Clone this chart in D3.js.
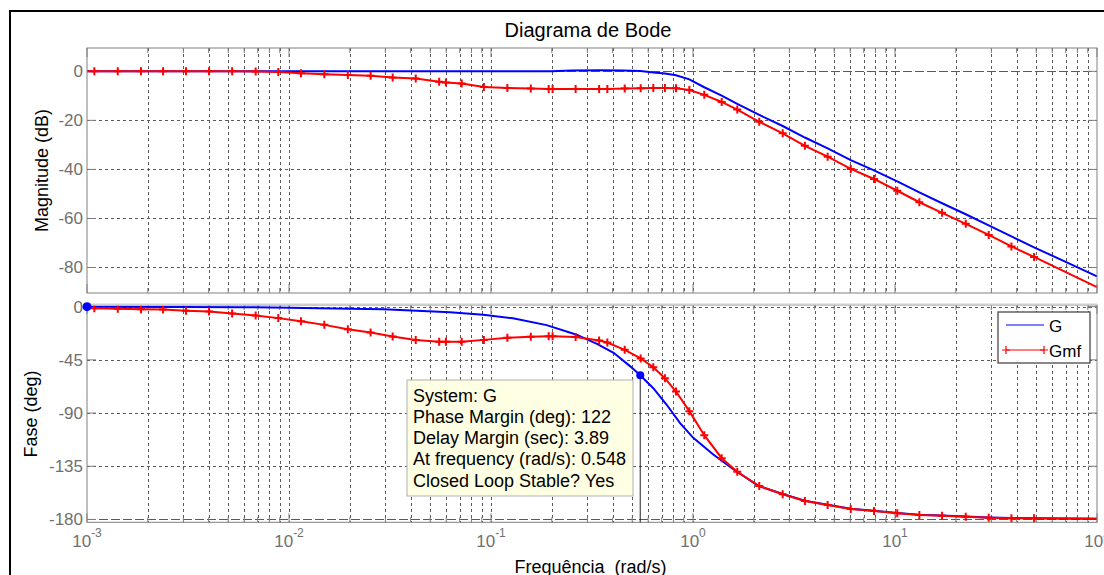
<!DOCTYPE html>
<html>
<head>
<meta charset="utf-8">
<script src="https://cdn.jsdelivr.net/npm/d3@7"></script>
<style>
  body { margin: 0; background: #fff; }
  svg { display: block; font-family: "Liberation Sans", Arial, sans-serif; }
</style>
</head>
<body>
<svg id="chart" width="1104" height="575"></svg>
<script>
// G : magnitude (dB)
var freqGMag = [0.001, 0.01, 0.1, 0.2, 0.25, 0.35, 0.45, 0.55, 0.636, 0.726, 0.824, 0.959, 1.137, 1.387,
    1.656, 2.128, 2.78, 3.58, 4.64, 6.04, 7.87, 10.26, 13.2, 17.1, 22.4, 29.1, 37.7, 48.8, 70, 100];
var magG = [0, 0, 0, 0.05, 0.3, 0.4, 0.3, 0.1, -0.5, -0.9, -1.6, -3.3, -6.5, -9.9,
    -13.3, -17.8, -22.3, -27.0, -31.4, -36.2, -40.4, -44.9, -49.4, -53.8, -58.3, -62.8, -67.3, -71.8, -77.7, -83.6];

// G : phase (deg)
var freqGPh = [0.001, 0.003, 0.006, 0.01, 0.02, 0.0293, 0.0429, 0.0626, 0.0916, 0.1285, 0.1885, 0.2634,
    0.3346, 0.4046, 0.489, 0.548, 0.636, 0.741, 0.863, 1.003, 1.26, 1.583, 2.105, 2.78, 3.58, 4.64, 6.04,
    7.87, 10.26, 13.2, 17.1, 22.4, 29.1, 37.7, 48.8, 100];
var phaseG = [-0.1, -0.25, -0.5, -0.85, -1.7, -2.3, -3.4, -4.8, -6.8, -9.8, -15.6, -23.5,
    -31.5, -39, -50.5, -58, -69, -83, -98.5, -111, -125, -137.5, -151.5, -158.5, -164.2, -167.6, -171,
    -172.6, -174.6, -176, -176.6, -177.5, -178.3, -178.8, -179, -179.5];

// Gmf : frequency points (markers on all but the two ends)
var freqGmf = [0.001, 0.001087, 0.00142, 0.00185, 0.00238, 0.00309, 0.00402, 0.00523, 0.00684, 0.00885,
    0.01146, 0.01496, 0.01955, 0.02535, 0.0326, 0.0424, 0.0554, 0.0598, 0.0716, 0.0922, 0.1205, 0.1574,
    0.193, 0.2018, 0.2624, 0.343, 0.3767, 0.4592, 0.5508, 0.636, 0.726, 0.824, 0.959, 1.137, 1.387, 1.656,
    2.128, 2.78, 3.58, 4.64, 6.04, 7.87, 10.26, 13.2, 17.1, 22.4, 29.1, 37.7, 48.8, 100];
var magGmf = [0, 0, 0, 0, 0, 0, 0, 0, -0.1, -0.3,
    -0.8, -1.2, -1.5, -1.8, -2.5, -2.9, -4.3, -4.6, -5.0, -6.4, -6.8, -7.0,
    -7.2, -7.2, -7.2, -7.2, -7.2, -7.0, -6.9, -6.8, -6.8, -6.9, -7.6, -9.6, -12.5, -15.6,
    -20.6, -25.3, -30.4, -34.8, -39.8, -43.9, -48.7, -53.4, -57.7, -62.2, -66.7, -71.4, -75.7, -88.0];
var phaseGmf = [-1.2, -1.4, -1.8, -2.1, -2.5, -3.4, -4.2, -5.8, -7.5, -9.7,
    -12.4, -15.4, -19.2, -21.8, -25.2, -28.2, -29.6, -29.6, -29.6, -28.1, -26.3, -25.5,
    -25.0, -25.0, -25.7, -28.7, -30.3, -36.5, -43.8, -51.2, -60.5, -71.8, -88.4, -108.7, -128.2, -139.7,
    -151.8, -158.7, -164.4, -167.8, -171.2, -172.8, -174.8, -176.2, -176.8, -177.7, -178.5, -179.0, -179.0, -179.5];

var magTicks = [-80, -60, -40, -20, 0];
var phaseTicks = [-180, -135, -90, -45, 0];
var decadeExp = [-3, -2, -1, 0, 1, 2];

var tipLines = ['System: G', 'Phase Margin (deg): 122', 'Delay Margin (sec): 3.89',
    'At frequency (rad/s): 0.548', 'Closed Loop Stable? Yes'];
var tipFreq = 0.548, tipPhase = -58;

var svg = d3.select('#chart');

// figure frame
svg.append('rect')
    .attr('x', 10).attr('y', 11)
    .attr('width', 1130).attr('height', 600)
    .attr('fill', 'none').attr('stroke', '#000').attr('stroke-width', 2);

var x = d3.scaleLog().domain([1e-3, 1e2]).range([87, 1097]);
var yMag = d3.scaleLinear().domain([-90.4, 9.5]).range([293, 48]);
var yPh = d3.scaleLinear().domain([-182.4, 1.4]).range([522.3, 305]);

var minors = [];
d3.range(-3, 2).forEach(function(e) {
    d3.range(2, 10).forEach(function(k) { minors.push(k * Math.pow(10, e)); });
});
var decades = decadeExp.map(function(e) { return Math.pow(10, e); });

function drawPanel(y, ticks, refValue, showX) {
    var g = svg.append('g');
    var yb = y.range()[0], yt = y.range()[1];
    var xl = x.range()[0], xr = x.range()[1];

    // grid
    g.selectAll(null).data(minors.concat(decades.slice(1, -1))).enter().append('line')
        .attr('x1', d => Math.round(x(d)) + 0.5).attr('x2', d => Math.round(x(d)) + 0.5)
        .attr('y1', yt).attr('y2', yb)
        .attr('stroke', '#5a5a5a').attr('stroke-width', 1)
        .attr('stroke-dasharray', '3,3');
    g.selectAll(null).data(ticks).enter().append('line')
        .attr('x1', xl).attr('x2', xr)
        .attr('y1', d => Math.round(y(d)) + 0.5).attr('y2', d => Math.round(y(d)) + 0.5)
        .attr('stroke', '#5a5a5a').attr('stroke-width', 1)
        .attr('stroke-dasharray', '3,3');
    g.append('line')
        .attr('x1', xl).attr('x2', xr)
        .attr('y1', Math.round(y(refValue)) + 0.5).attr('y2', Math.round(y(refValue)) + 0.5)
        .attr('stroke', '#5a5a5a').attr('stroke-width', 1)
        .attr('stroke-dasharray', '8,4');

    // tick marks (inside, all four sides)
    var tk = g.append('g').attr('stroke', '#7f7f7f').attr('stroke-width', 1);
    decades.forEach(function(d) {
        tk.append('line').attr('x1', x(d)).attr('x2', x(d)).attr('y1', yb).attr('y2', yb - 9);
        tk.append('line').attr('x1', x(d)).attr('x2', x(d)).attr('y1', yt).attr('y2', yt + 9);
    });
    minors.forEach(function(d) {
        tk.append('line').attr('x1', x(d)).attr('x2', x(d)).attr('y1', yb).attr('y2', yb - 5);
        tk.append('line').attr('x1', x(d)).attr('x2', x(d)).attr('y1', yt).attr('y2', yt + 5);
    });
    ticks.forEach(function(d) {
        tk.append('line').attr('x1', xl).attr('x2', xl + 9).attr('y1', y(d)).attr('y2', y(d));
        tk.append('line').attr('x1', xr).attr('x2', xr - 9).attr('y1', y(d)).attr('y2', y(d));
    });

    // y tick labels
    g.selectAll(null).data(ticks).enter().append('text')
        .attr('x', xl - 4).attr('y', d => y(d) + 6)
        .attr('text-anchor', 'end')
        .attr('font-size', '17px').attr('fill', '#707070')
        .text(d => d);

    if (showX) {
        var xt = g.selectAll(null).data(decadeExp).enter().append('text')
            .attr('x', d => x(Math.pow(10, d))).attr('y', yb + 25)
            .attr('text-anchor', 'middle')
            .attr('font-size', '17px').attr('fill', '#707070');
        xt.append('tspan').text('10');
        xt.append('tspan').attr('dy', -10).attr('font-size', '12px').text(d => d);
    }
    return g;
}

var gMagPanel = drawPanel(yMag, magTicks, 0, false);
var gPhPanel = drawPanel(yPh, phaseTicks, -180, true);

function lineFor(y) {
    return d3.line().x(d => x(d[0])).y(d => y(d[1]));
}
var plus = 'M-4,0H4M0,-4V4';

function drawCurves(y, fG, vG, vGmf) {
    var g = svg.append('g');
    g.append('path')
        .datum(d3.zip(fG, vG))
        .attr('d', lineFor(y))
        .attr('fill', 'none').attr('stroke', '#0000ff').attr('stroke-width', 2);
    var pts = d3.zip(freqGmf, vGmf);
    g.append('path')
        .datum(pts)
        .attr('d', lineFor(y))
        .attr('fill', 'none').attr('stroke', '#ff0000').attr('stroke-width', 2);
    g.selectAll(null).data(pts.slice(1, -1)).enter().append('path')
        .attr('d', plus)
        .attr('transform', d => 'translate(' + x(d[0]) + ',' + y(d[1]) + ')')
        .attr('fill', 'none').attr('stroke', '#ff0000').attr('stroke-width', 2);
    return g;
}

drawCurves(yMag, freqGMag, magG, magGmf);
drawCurves(yPh, freqGPh, phaseG, phaseGmf);

// axes boxes
svg.append('rect')
    .attr('x', x.range()[0]).attr('y', yMag.range()[1])
    .attr('width', x.range()[1] - x.range()[0]).attr('height', yMag.range()[0] - yMag.range()[1])
    .attr('fill', 'none').attr('stroke', '#808080').attr('stroke-width', 1);
svg.append('rect')
    .attr('x', x.range()[0]).attr('y', yPh.range()[1])
    .attr('width', x.range()[1] - x.range()[0]).attr('height', yPh.range()[0] - yPh.range()[1])
    .attr('fill', 'none').attr('stroke', '#808080').attr('stroke-width', 1);
svg.append('line')
    .attr('x1', x.range()[0]).attr('x2', x.range()[1])
    .attr('y1', yPh.range()[1] - 0.5).attr('y2', yPh.range()[1] - 0.5)
    .attr('stroke', '#cfcfcf').attr('stroke-width', 2);

// start point marker
svg.append('circle')
    .attr('cx', x(freqGPh[0])).attr('cy', yPh(0)).attr('r', 4.5)
    .attr('fill', '#0000ff');

// data tip
svg.append('line')
    .attr('x1', x(tipFreq)).attr('x2', x(tipFreq))
    .attr('y1', yPh(tipPhase)).attr('y2', yPh.range()[0])
    .attr('stroke', '#222').attr('stroke-width', 1);
var tip = svg.append('g');
tip.append('rect')
    .attr('x', 407).attr('y', 380).attr('width', 226).attr('height', 116)
    .attr('fill', '#ffffe3').attr('stroke', '#b0b0b0').attr('stroke-width', 1);
tip.selectAll(null).data(tipLines).enter().append('text')
    .attr('x', 413).attr('y', (d, i) => 401.5 + i * 21.3)
    .attr('font-size', '18px').attr('fill', '#000')
    .text(d => d);
svg.append('circle')
    .attr('cx', x(tipFreq)).attr('cy', yPh(tipPhase)).attr('r', 4)
    .attr('fill', '#0000ff');

// legend
var lg = svg.append('g');
lg.append('rect')
    .attr('x', 998).attr('y', 312).attr('width', 92).attr('height', 51)
    .attr('fill', '#fff').attr('stroke', '#3a3a3a').attr('stroke-width', 1.2);
lg.append('line').attr('x1', 1006).attr('x2', 1044).attr('y1', 325).attr('y2', 325)
    .attr('stroke', '#0000ff').attr('stroke-width', 1.2);
lg.append('line').attr('x1', 1006).attr('x2', 1044).attr('y1', 350).attr('y2', 350)
    .attr('stroke', '#ff0000').attr('stroke-width', 1.2);
[1006, 1044].forEach(function(px) {
    lg.append('path').attr('d', plus).attr('transform', 'translate(' + px + ',350)')
        .attr('fill', 'none').attr('stroke', '#ff0000').attr('stroke-width', 1.2);
});
lg.append('text').attr('x', 1049).attr('y', 331.5).attr('font-size', '17px').text('G');
lg.append('text').attr('x', 1049).attr('y', 356.5).attr('font-size', '17px').text('Gmf');

// titles
svg.append('text')
    .attr('x', 588).attr('y', 37)
    .attr('text-anchor', 'middle').attr('font-size', '20px').attr('fill', '#000')
    .text('Diagrama de Bode');
svg.append('text')
    .attr('transform', 'translate(47.5,170.5) rotate(-90)')
    .attr('text-anchor', 'middle').attr('font-size', '18px').attr('fill', '#000')
    .text('Magnitude (dB)');
svg.append('text')
    .attr('transform', 'translate(36.5,414) rotate(-90)')
    .attr('text-anchor', 'middle').attr('font-size', '18px').attr('fill', '#000')
    .text('Fase (deg)');
svg.append('text')
    .attr('x', 590.5).attr('y', 572.5)
    .attr('text-anchor', 'middle').attr('font-size', '18px').attr('fill', '#000')
    .style('white-space', 'pre')
    .text('Frequência  (rad/s)');
</script>
</body>
</html>
